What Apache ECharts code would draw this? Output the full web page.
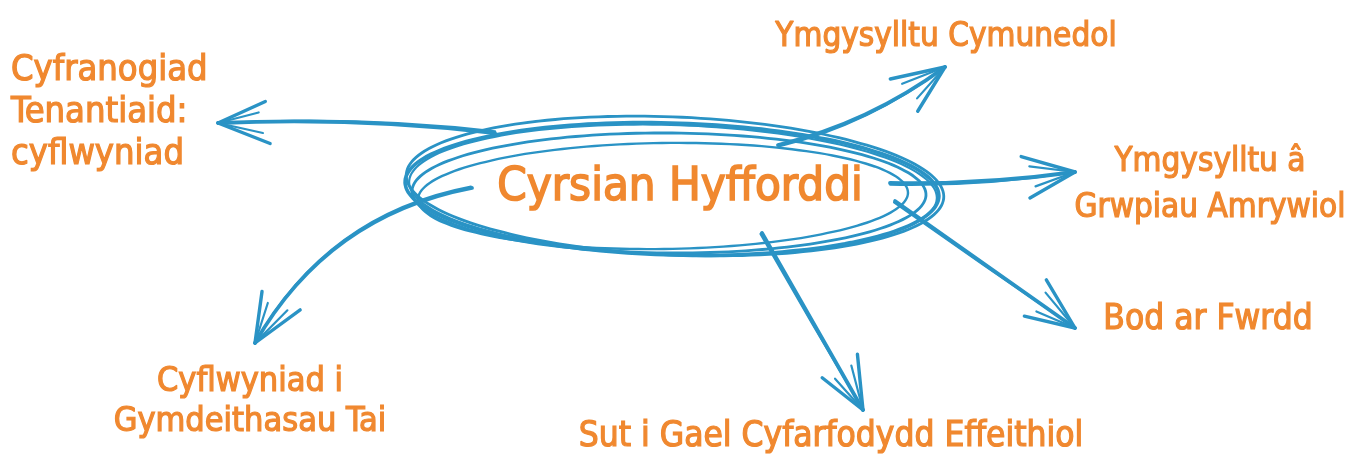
<!DOCTYPE html>
<html>
<head>
<meta charset="utf-8">
<script src="https://cdn.jsdelivr.net/npm/echarts@6/dist/echarts.min.js"></script>
<style>
html,body{margin:0;padding:0;background:#fff;}
#chart{width:1357px;height:472px;}
</style>
</head>
<body>
<div id="chart"></div>
<script>
// ---- data ----
var hubText = 'Cyrsian Hyfforddi';
var hubPos = [680, 188];
var ringPos = [672, 189];
var ringRadii = [267, 66];

var topicText = [
  'Cyfranogiad\nTenantiaid:\ncyflwyniad',
  'Ymgysylltu Cymunedol',
  'Ymgysylltu â\nGrwpiau Amrywiol',
  'Bod ar Fwrdd',
  'Sut i Gael Cyfarfodydd Effeithiol',
  'Cyflwyniad i\nGymdeithasau Tai'
];
var topicPos = [
  [11, 113],
  [946, 37],
  [1210, 185],
  [1208, 320],
  [831, 437],
  [250, 402]
];
var topicAlign = ['left', 'center', 'center', 'center', 'center', 'center'];
var topicFontSize = [36, 33, 33, 35, 35, 34];
var topicLineHeight = [42, 42, 46, 42, 42, 40];

// arrow: start point, tip point, bend
var arrowStart = [[495, 133], [778, 145], [890, 183], [895, 201], [762, 233], [472, 188]];
var arrowTip   = [[218, 123], [945, 67], [1075, 172], [1075, 328], [863, 410], [255, 343]];
var arrowBend  = [0.04, 0.1, 0.04, 0, 0, 0.23];

// ---- styles ----
var ORANGE = '#F0882F';
var BLUE = '#2A93C5';
var FONT = '"Liberation Sans Narrow","DejaVu Sans Condensed","Noto Sans",sans-serif';

var chart = echarts.init(document.getElementById('chart'));

var arrowData = arrowStart.map(function (s, i) {
  return [s[0], s[1], arrowTip[i][0], arrowTip[i][1], arrowBend[i]];
});

function renderHub(params, api) {
  var c = api.coord([api.value(0), api.value(1)]);
  var sz = api.size([api.value(2), api.value(3)]);
  var rx = sz[0], ry = sz[1];
  var variants = [
    {dx: 0, dy: 0, rx: 0, ry: 0, rot: 1.6, a0: 0.3, w: 3.6},
    {dx: -3, dy: 4, rx: -10, ry: -6, rot: 0.4, a0: 2.0, w: 2.8},
    {dx: 3, dy: -3, rx: 2, ry: 3, rot: 2.4, a0: 4.1, w: 2.8},
    {dx: -9, dy: 7, rx: -22, ry: -13, rot: -0.8, a0: 5.2, w: 2.4},
    {dx: 1, dy: 1, rx: -3, ry: -1, rot: 1.8, a0: 1.1, w: 2.2}
  ];
  var children = variants.map(function (v) {
    var pts = [];
    var rot = v.rot * Math.PI / 180;
    var n = 90;
    for (var k = 0; k <= n + 8; k++) {
      var t = v.a0 + k / n * Math.PI * 2;
      var ex = (rx + v.rx) * Math.cos(t);
      var ey = (ry + v.ry) * Math.sin(t);
      pts.push([
        c[0] + v.dx + ex * Math.cos(rot) - ey * Math.sin(rot),
        c[1] + v.dy + ex * Math.sin(rot) + ey * Math.cos(rot)
      ]);
    }
    return {
      type: 'polyline',
      shape: {points: pts, smooth: 0.3},
      style: {stroke: BLUE, lineWidth: v.w, fill: null, lineCap: 'round'}
    };
  });
  return {type: 'group', children: children};
}

function renderArrow(params, api) {
  var s = api.coord([api.value(0), api.value(1)]);
  var t = api.coord([api.value(2), api.value(3)]);
  var bend = api.value(4);
  var dx = t[0] - s[0], dy = t[1] - s[1];
  var len = Math.sqrt(dx * dx + dy * dy);
  var nx = -dy / len, ny = dx / len;
  var cp = [(s[0] + t[0]) / 2 + nx * bend * len, (s[1] + t[1]) / 2 + ny * bend * len];
  var ux = t[0] - cp[0], uy = t[1] - cp[1];
  var ul = Math.sqrt(ux * ux + uy * uy);
  ux /= ul; uy /= ul;
  var children = [];
  var strokes = [{o: 0, w: 3.8}, {o: 1.8, w: 2}];
  strokes.forEach(function (st) {
    children.push({
      type: 'bezierCurve',
      shape: {x1: s[0] + nx * st.o, y1: s[1] + ny * st.o, x2: t[0], y2: t[1],
              cpx1: cp[0] + nx * st.o, cpy1: cp[1] + ny * st.o},
      style: {stroke: BLUE, lineWidth: st.w, fill: null, lineCap: 'round'}
    });
  });
  var wings = [{a: 24, l: 56}, {a: -22, l: 52}, {a: 15, l: 46}, {a: -12, l: 42}];
  wings.forEach(function (wg, j) {
    var ang = wg.a * Math.PI / 180;
    var bx = -ux * Math.cos(ang) + uy * Math.sin(ang);
    var by = -uy * Math.cos(ang) - ux * Math.sin(ang);
    children.push({
      type: 'line',
      shape: {x1: t[0], y1: t[1], x2: t[0] + bx * wg.l, y2: t[1] + by * wg.l},
      style: {stroke: BLUE, lineWidth: j < 2 ? 3.4 : 2.2, lineCap: 'round'}
    });
  });
  return {type: 'group', children: children};
}

var option = {
  backgroundColor: '#ffffff',
  animation: false,
  grid: {left: 0, right: 0, top: 0, bottom: 0},
  xAxis: {type: 'value', min: 0, max: 1357, show: false},
  yAxis: {type: 'value', min: 0, max: 472, inverse: true, show: false},
  series: [
    {
      type: 'custom',
      renderItem: renderHub,
      data: [[ringPos[0], ringPos[1], ringRadii[0], ringRadii[1]]],
      silent: true, z: 2
    },
    {
      type: 'custom',
      renderItem: renderArrow,
      data: arrowData,
      silent: true, z: 2
    },
    {
      type: 'scatter',
      symbolSize: 0,
      z: 5,
      itemStyle: {opacity: 1},
      data: [{value: hubPos, name: hubText}],
      label: {
        show: true, position: 'inside', formatter: '{b}',
        color: ORANGE, fontFamily: FONT, fontSize: 47, fontWeight: 'normal',
        textBorderColor: ORANGE, textBorderWidth: 1.6
      }
    },
    {
      type: 'scatter',
      symbolSize: 0,
      z: 5,
      itemStyle: {opacity: 1},
      data: topicText.map(function (txt, i) {
        return {
          value: topicPos[i], name: txt,
          label: {align: topicAlign[i], fontSize: topicFontSize[i], lineHeight: topicLineHeight[i]}
        };
      }),
      label: {
        show: true, position: 'inside', formatter: '{b}',
        color: ORANGE, fontFamily: FONT,
        verticalAlign: 'middle',
        textBorderColor: ORANGE, textBorderWidth: 1.2
      }
    }
  ]
};
chart.setOption(option);
</script>
</body>
</html>
